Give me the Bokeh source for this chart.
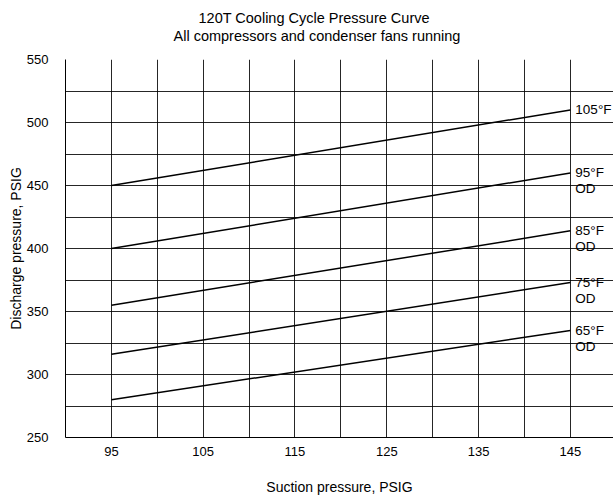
from bokeh.plotting import figure
from bokeh.models import FixedTicker, Range1d, ColumnDataSource, Title
from bokeh.embed import file_html
from bokeh.resources import INLINE
from bokeh.core.properties import value

# ---- data ----
suction = [95, 145]
od_105 = [450, 510]
od_95 = [400, 460]
od_85 = [355, 414]
od_75 = [316, 373]
od_65 = [280, 335]
series = [od_105, od_95, od_85, od_75, od_65]
label_line1 = ["105°F", "95°F", "85°F", "75°F", "65°F"]
label_line2 = ["", "OD", "OD", "OD", "OD"]

title_line1 = "120T Cooling Cycle Pressure Curve"
title_line2 = "All compressors and condenser fans running"

x_tick_values = [95, 105, 115, 125, 135, 145]
x_grid_values = [95, 100, 105, 110, 115, 120, 125, 130, 135, 140, 145]
y_tick_values = [250, 300, 350, 400, 450, 500, 550]
y_grid_values = [275, 300, 325, 350, 375, 400, 425, 450, 475, 500, 525, 550]

FONT = "Liberation Sans"
FW, FH = 548, 378

p = figure(frame_width=FW, frame_height=FH, output_backend="svg", toolbar_location=None,
           x_range=Range1d(90, 149.7), y_range=Range1d(250, 550),
           min_border_left=65, min_border_right=0, min_border_top=59,
           min_border_bottom=59)
p.outline_line_color = None
p.background_fill_color = "white"
p.border_fill_color = "white"

# two-line title: a small spacer panel next to the frame, then the two lines
p.add_layout(Title(text=" ", standoff=5, text_font=FONT, text_font_size="8px"), "above")
p.add_layout(Title(text=title_line2, align="left", offset=108, standoff=0,
                   text_font=FONT, text_font_size="14.5px", text_font_style="normal",
                   text_line_height=0.8, text_color="black"), "above")
p.add_layout(Title(text=title_line1, align="left", offset=133, standoff=0,
                   text_font=FONT, text_font_size="14.5px", text_font_style="normal",
                   text_line_height=0.8, text_color="black"), "above")

# axes
for ax in (p.xaxis[0], p.yaxis[0]):
    ax.axis_line_color = "black"
    ax.axis_line_width = 1
    ax.major_tick_line_color = None
    ax.minor_tick_line_color = None
    ax.major_label_text_font = FONT
    ax.major_label_text_font_size = "13px"
    ax.major_label_text_color = "black"
    ax.axis_label_text_font = FONT
    ax.axis_label_text_font_size = "14px"
    ax.axis_label_text_font_style = "normal"
    ax.axis_label_text_color = "black"

p.xaxis.ticker = FixedTicker(ticks=x_tick_values)
p.xaxis.axis_label = "Suction pressure, PSIG"
p.xaxis.major_label_standoff = 3
p.xaxis.axis_label_standoff = 20

p.yaxis.ticker = FixedTicker(ticks=y_tick_values)
p.yaxis.axis_label = "Discharge pressure, PSIG"
p.yaxis.major_label_standoff = 11
p.yaxis.axis_label_standoff = 0

# grids
p.xgrid.ticker = FixedTicker(ticks=x_grid_values)
p.ygrid.ticker = FixedTicker(ticks=y_grid_values)
for g in (p.xgrid[0], p.ygrid[0]):
    g.grid_line_color = "black"
    g.grid_line_width = 1
    g.grid_line_alpha = 0.85

# curves
for ys in series:
    p.line(suction, ys, line_color="black", line_width=1.5)

end_x = [suction[-1]] * len(series)
end_y = [ys[-1] for ys in series]
src = ColumnDataSource(dict(x=end_x, y=end_y, t1=label_line1, t2=label_line2))
p.text(x="x", y="y", text="t1", source=src, x_offset=5, y_offset=0,
       text_align="left", text_baseline="middle", text_font=value(FONT),
       text_font_size="13.5px", text_color="black")
p.text(x="x", y="y", text="t2", source=src, x_offset=5, y_offset=16,
       text_align="left", text_baseline="middle", text_font=value(FONT),
       text_font_size="13.5px", text_color="black")

open("out.html", "w").write(file_html(p, INLINE))
